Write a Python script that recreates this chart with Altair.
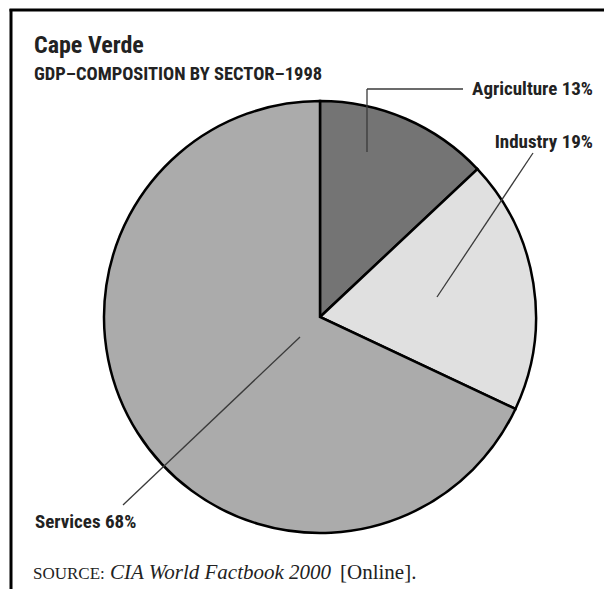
import altair as alt
import pandas as pd

# ---- data ----
sectors = ["Agriculture", "Industry", "Services"]
shares = [13, 19, 68]
slice_colors = ["#747474", "#e0e0e0", "#ababab"]
slice_labels = ["Agriculture 13%", "Industry 19%", "Services 68%"]

title_text = "Cape Verde"
subtitle_text = "GDP–COMPOSITION BY SECTOR–1998"
source_parts = ["SOURCE:", "CIA World Factbook 2000", "[Online]."]

# ---- layout (chart pixel coordinates) ----
W, H = 596, 581
CX, CY, R = 312, 309, 216
SANS = "'Roboto Condensed', 'DejaVu Sans Condensed', 'Liberation Sans Narrow', sans-serif"
SERIF = "'Liberation Serif', 'Times New Roman', serif"

xs = alt.Scale(domain=[0, W])
ys = alt.Scale(domain=[0, H], reverse=True)

pie_df = pd.DataFrame({"sector": sectors, "share": shares, "order": list(range(len(sectors)))})
pie = alt.Chart(pie_df).mark_arc(radius=R, stroke="black", strokeWidth=2.5).encode(
    theta=alt.Theta("share:Q", stack=True),
    color=alt.Color("sector:N", scale=alt.Scale(domain=sectors, range=slice_colors), legend=None),
    order=alt.Order("order:Q"),
    x=alt.value(CX),
    y=alt.value(CY),
)

# leader line segments
seg_df = pd.DataFrame({
    "x":  [359, 359, 429, 292],
    "y":  [144, 81, 289, 329],
    "x2": [359, 455, 525, 115],
    "y2": [81, 81, 145, 497],
})
leaders = alt.Chart(seg_df).mark_rule(color="#3a3a3a", strokeWidth=1.3).encode(
    x=alt.X("x:Q", scale=xs, axis=None),
    y=alt.Y("y:Q", scale=ys, axis=None),
    x2="x2:Q",
    y2="y2:Q",
)

# frame
frame_df = pd.DataFrame({"x": [1.5, 3], "y": [2, 1], "x2": [W, 3], "y2": [2, H]})
frame = alt.Chart(frame_df).mark_rule(color="black", strokeWidth=3).encode(
    x=alt.X("x:Q", scale=xs, axis=None),
    y=alt.Y("y:Q", scale=ys, axis=None),
    x2="x2:Q",
    y2="y2:Q",
)

lab_df = pd.DataFrame({
    "text": slice_labels,
    "x": [585, 585, 27],
    "y": [87, 140, 520],
    "align": ["right", "right", "left"],
})
labels_r = alt.Chart(lab_df[lab_df["align"] == "right"]).mark_text(
    font=SANS, fontSize=19, fontWeight="bold", align="right", baseline="alphabetic", color="#222222"
).encode(x=alt.X("x:Q", scale=xs, axis=None), y=alt.Y("y:Q", scale=ys, axis=None), text="text:N")
labels_l = alt.Chart(lab_df[lab_df["align"] == "left"]).mark_text(
    font=SANS, fontSize=19, fontWeight="bold", align="left", baseline="alphabetic", color="#222222"
).encode(x=alt.X("x:Q", scale=xs, axis=None), y=alt.Y("y:Q", scale=ys, axis=None), text="text:N")

def txt(text, x, y, **kw):
    d = pd.DataFrame({"text": [text], "x": [x], "y": [y]})
    return alt.Chart(d).mark_text(align="left", baseline="alphabetic", **kw).encode(
        x=alt.X("x:Q", scale=xs, axis=None), y=alt.Y("y:Q", scale=ys, axis=None), text="text:N"
    )

t1 = txt(title_text, 26, 45, font=SANS, fontSize=24, fontWeight="bold", color="#222222")
t2 = txt(subtitle_text, 26, 72, font=SANS, fontSize=18.5, fontWeight="bold", color="#222222")
s1 = txt(source_parts[0], 25, 571, font=SERIF, fontSize=17, color="#222222")
s2 = txt(source_parts[1], 102, 571, font=SERIF, fontSize=21, fontStyle="italic", color="#222222")
s3 = txt(source_parts[2], 332, 571, font=SERIF, fontSize=21, color="#222222")

chart = alt.layer(pie, leaders, frame, labels_r, labels_l, t1, t2, s1, s2, s3).properties(
    width=W, height=H, autosize=alt.AutoSizeParams(type="none"), padding=0
).configure_view(stroke=None)

chart.save("out.html", embed_options={"renderer": "svg", "actions": False})
